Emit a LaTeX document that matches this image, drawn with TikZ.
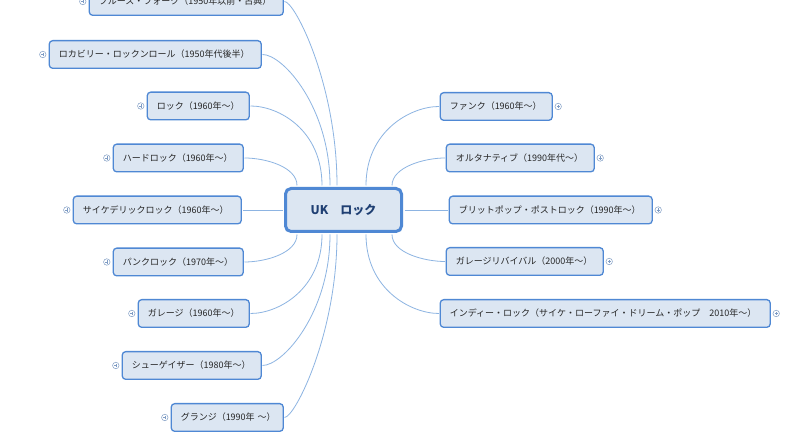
\documentclass[tikz,border=0pt]{standalone}
\usepackage{fontspec}
\setmainfont{Noto Sans CJK JP}
\usetikzlibrary{positioning}
\definecolor{topicfill}{HTML}{DCE6F2}
\definecolor{topicline}{HTML}{4F88D4}
\definecolor{linkline}{HTML}{8DB4E2}
\definecolor{labeltext}{HTML}{262626}
\definecolor{hubtext}{HTML}{1F3F73}
\definecolor{expandgray}{HTML}{7F9CC4}
\tikzset{
  topic/.style={draw=topicline, fill=topicfill, line width=1.3pt, rounded corners=3.5pt,
    minimum height=27.7pt, inner xsep=9.5pt, inner ysep=0pt, align=left,
    text=labeltext, font=\fontsize{9}{10}\selectfont, anchor=west},
  hubtopic/.style={draw=topicline, fill=topicfill, line width=3pt, rounded corners=5.5pt,
    minimum width=116pt, minimum height=43pt, text=hubtext,
    font=\bfseries\fontsize{12}{14}\selectfont},
  link/.style={draw=linkline, line width=0.8pt, shorten <=1.5pt, shorten >=0.6pt},
  expander/.style={circle, draw=expandgray, line width=0.5pt, minimum size=6.5pt, inner sep=0pt,
    path picture={\draw[expandgray, line width=0.5pt]
      ([xshift=-1.6pt]path picture bounding box.center) -- ([xshift=1.6pt]path picture bounding box.center)
      ([yshift=-1.6pt]path picture bounding box.center) -- ([yshift=1.6pt]path picture bounding box.center);}}
}
\begin{document}
\begin{tikzpicture}[x=1pt,y=1pt]
  \path[use as bounding box, fill=white] (0,0) rectangle (788,435);

  % Drawing central topic
  \node[hubtopic] (hub) at (343.5,225) {UK　ロック};

  % Drawing topics on the left
  \node[topic, text width=175pt] (blues) at (88.6,433.5) {ブルース・フォーク（1950年以前・古典）};
  \node[topic, text width=193pt] (rockabilly) at (48.6,380.5) {ロカビリー・ロックンロール（1950年代後半）};
  \node[topic, text width=83pt] (rock) at (146.6,329) {ロック（1960年〜）};
  \node[topic, text width=111pt] (hardrock) at (112.6,277) {ハードロック（1960年〜）};
  \node[topic, text width=149pt] (psyche) at (72.6,225) {サイケデリックロック（1960年〜）};
  \node[topic, text width=111pt] (punk) at (112.6,173) {パンクロック（1970年〜）};
  \node[topic, text width=92pt] (garage) at (137.6,121.5) {ガレージ（1960年〜）};
  \node[topic, text width=120pt] (shoegaze) at (121.6,69.5) {シューゲイザー（1980年〜）};
  \node[topic, text width=93pt] (grunge) at (170.6,17.5) {グランジ（1990年~〜）};

  % Drawing topics on the right
  \node[topic, text width=93pt] (funk) at (439.6,328.5) {ファンク（1960年〜）};
  \node[topic, text width=129pt] (alternative) at (445.6,277) {オルタナティブ（1990年代〜）};
  \node[topic, text width=184pt] (britpop) at (448.6,225) {ブリットポップ・ポストロック（1990年〜）};
  \node[topic, text width=138pt] (revival) at (445.6,173.5) {ガレージリバイバル（2000年〜）};
  \node[topic, text width=311pt] (indie) at (439.6,121.5) {インディー・ロック（サイケ・ローファイ・ドリーム・ポップ　2010年〜）};

  % Drawing expand marks
  \node[expander, left=2.3pt of blues] (bluesexp) {};
  \node[expander, left=2.3pt of rockabilly] (rockabillyexp) {};
  \node[expander, left=2.3pt of rock] (rockexp) {};
  \node[expander, left=2.3pt of hardrock] (hardrockexp) {};
  \node[expander, left=2.3pt of psyche] (psycheexp) {};
  \node[expander, left=2.3pt of punk] (punkexp) {};
  \node[expander, left=2.3pt of garage] (garageexp) {};
  \node[expander, left=2.3pt of shoegaze] (shoegazeexp) {};
  \node[expander, left=2.3pt of grunge] (grungeexp) {};
  \node[expander, right=1.8pt of funk] (funkexp) {};
  \node[expander, right=1.8pt of alternative] (alternativeexp) {};
  \node[expander, right=1.8pt of britpop] (britpopexp) {};
  \node[expander, right=1.8pt of revival] (revivalexp) {};
  \node[expander, right=1.8pt of indie] (indieexp) {};

  % Drawing links to the left
  \draw[link] ([xshift=-6.5pt]hub.north) .. controls +(0,102) and +(11,0) .. (blues.east);
  \draw[link] ([xshift=-13.5pt]hub.north) .. controls +(0,80) and +(21,0) .. (rockabilly.east);
  \draw[link] ([xshift=-21.5pt]hub.north) .. controls +(0,57) and +(29,0) .. (rock.east);
  \draw[link] ([xshift=-46.5pt]hub.north) .. controls +(0,20) and +(22,0) .. (hardrock.east);
  \draw[link] (hub.west) -- (psyche.east);
  \draw[link] ([xshift=-46.5pt]hub.south) .. controls +(0,-20) and +(22,0) .. (punk.east);
  \draw[link] ([xshift=-21.5pt]hub.south) .. controls +(0,-56) and +(29,0) .. (garage.east);
  \draw[link] ([xshift=-13.5pt]hub.south) .. controls +(0,-80) and +(21,0) .. (shoegaze.east);
  \draw[link] ([xshift=-6.5pt]hub.south) .. controls +(0,-101) and +(11,0) .. (grunge.east);

  % Drawing links to the right
  \draw[link] ([xshift=22.5pt]hub.north) .. controls +(0,56) and +(-29,0) .. (funk.west);
  \draw[link] ([xshift=48.5pt]hub.north) .. controls +(0,20) and +(-21,0) .. (alternative.west);
  \draw[link] (hub.east) -- (britpop.west);
  \draw[link] ([xshift=48.5pt]hub.south) .. controls +(0,-20) and +(-21,0) .. (revival.west);
  \draw[link] ([xshift=22.5pt]hub.south) .. controls +(0,-56) and +(-29,0) .. (indie.west);
\end{tikzpicture}
\end{document}
